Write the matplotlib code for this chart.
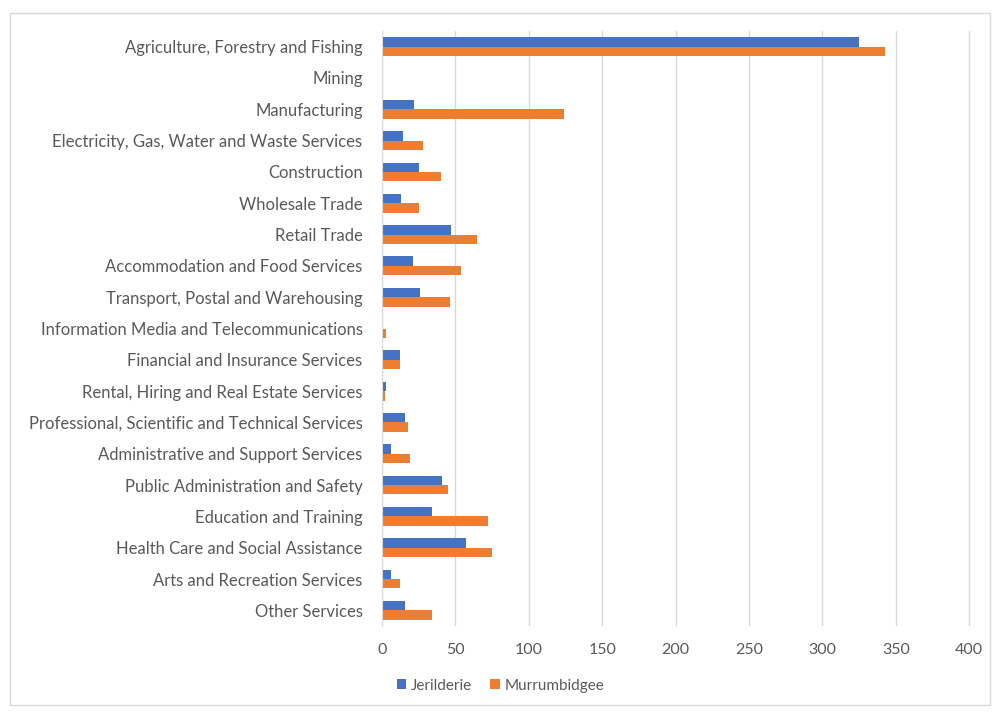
import numpy as np
import matplotlib
matplotlib.use("Agg")
import matplotlib.pyplot as plt
from matplotlib.patches import Rectangle

# data
industries = [
    "Agriculture, Forestry and Fishing",
    "Mining",
    "Manufacturing",
    "Electricity, Gas, Water and Waste Services",
    "Construction",
    "Wholesale Trade",
    "Retail Trade",
    "Accommodation and Food Services",
    "Transport, Postal and Warehousing",
    "Information Media and Telecommunications",
    "Financial and Insurance Services",
    "Rental, Hiring and Real Estate Services",
    "Professional, Scientific and Technical Services",
    "Administrative and Support Services",
    "Public Administration and Safety",
    "Education and Training",
    "Health Care and Social Assistance",
    "Arts and Recreation Services",
    "Other Services",
]
jerilderie = [325, 0, 22, 14, 25, 13, 47, 21, 26, 0, 12, 2.5, 16, 6, 41, 34, 57, 6, 16]
murrumbidgee = [343, 0, 124, 28, 40, 25, 65, 54, 46, 3, 12, 2, 18, 19, 45, 72, 75, 12, 34]
x_ticks = [0, 50, 100, 150, 200, 250, 300, 350, 400]

BLUE = "#4472C4"
ORANGE = "#ED7D31"
TEXT = "#595959"
GRID = "#D9D9D9"

plt.rcParams["font.family"] = ["Lato", "DejaVu Sans"]

fig = plt.figure(figsize=(9.94, 7.13), dpi=100)
# chart-area border
fig.patches.append(Rectangle((10 / 994, 8 / 713), 980 / 994, 692 / 713,
                             transform=fig.transFigure, fill=False,
                             edgecolor="#D9D9D9", linewidth=1))

ax = fig.add_axes([382 / 994, 1 - 626 / 713, (975 - 382) / 994, (626 - 31) / 713])

y = np.arange(len(industries))
h = 0.3
ax.barh(y - h / 2, jerilderie, height=h, color=BLUE, label="Jerilderie")
ax.barh(y + h / 2, murrumbidgee, height=h, color=ORANGE, label="Murrumbidgee")

ax.set_ylim(len(industries) - 0.5, -0.5)
ax.set_xlim(0, 404)
ax.set_xticks(x_ticks)
ax.set_yticks(y)
ax.set_yticklabels(industries, fontsize=12)
ax.xaxis.grid(True, color=GRID, linewidth=1)
ax.set_axisbelow(True)
for s in ["top", "right", "bottom"]:
    ax.spines[s].set_visible(False)
ax.spines["left"].set_color(GRID)
ax.tick_params(axis="both", length=0, colors=TEXT)
ax.tick_params(axis="x", labelsize=11.5, pad=12)
ax.tick_params(axis="y", pad=14)

ax.legend(loc="lower center", bbox_to_anchor=(0.2, -0.135), ncol=2, frameon=False,
          fontsize=11, labelcolor=TEXT, handlelength=0.6, handleheight=0.6,
          columnspacing=1.2, handletextpad=0.3)

fig.savefig("out.png", dpi=100)
